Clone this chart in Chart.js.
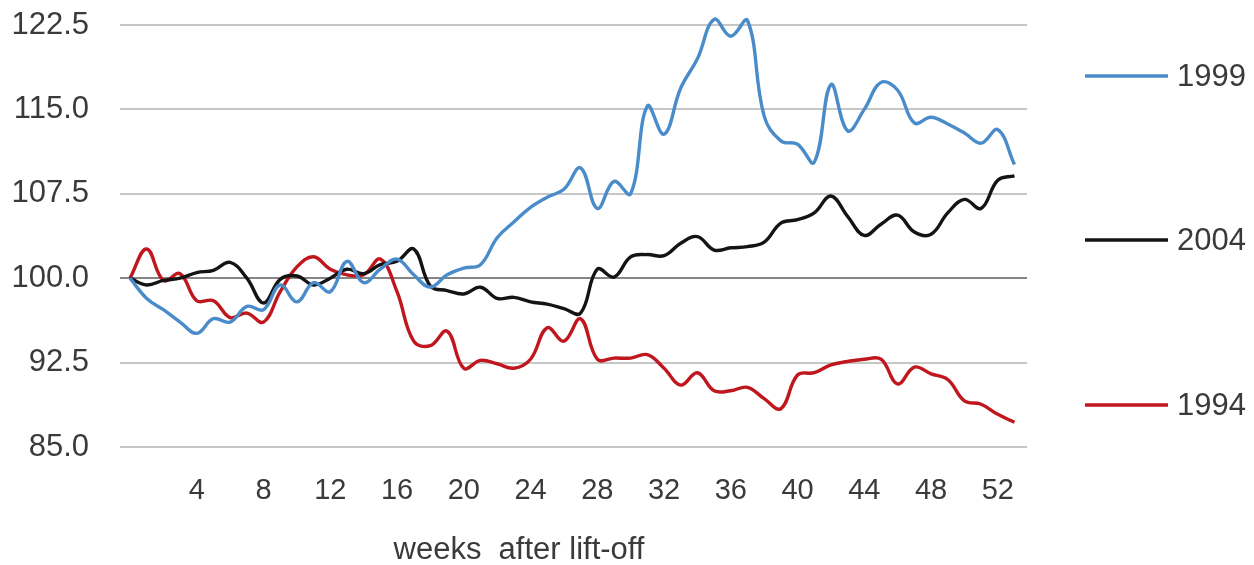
<!DOCTYPE html>
<html>
<head>
<meta charset="utf-8">
<script src="https://cdn.jsdelivr.net/npm/chart.js@4.4.1/dist/chart.umd.min.js"></script>
<style>
  body { margin: 0; background: #fff; }
  canvas { display: block; }
</style>
</head>
<body>
<canvas id="chart" width="1254" height="565"></canvas>
<script>
// weeks after lift-off
var weeks = [0,1,2,3,4,5,6,7,8,9,10,11,12,13,14,15,16,17,18,19,20,21,22,23,24,25,26,
  27,28,29,30,31,32,33,34,35,36,37,38,39,40,41,42,43,44,45,46,47,48,49,50,51,52,53];
var xTicks = [4,8,12,16,20,24,28,32,36,40,44,48,52];
var yTicks = [85,92.5,100,107.5,115,122.5];

var s1999 = [100,98.2,97.2,96.1,95.1,96.4,96.1,97.5,97.2,99.4,97.9,99.6,98.8,101.5,99.6,
  100.8,101.7,100.3,99.2,100.3,100.9,101.2,103.6,105.0,106.3,107.2,107.9,109.8,106.2,
  108.6,107.5,115.3,112.8,116.9,119.5,123.0,121.5,122.9,114.4,112.2,111.9,110.3,117.2,
  113.1,115.0,117.4,116.7,113.8,114.3,113.7,112.9,112.0,113.2,110.1];
var s2004 = [100,99.4,99.8,100.0,100.5,100.7,101.4,100.0,97.8,99.9,100.2,99.4,100.0,100.8,
  100.4,101.2,101.5,102.6,99.3,98.9,98.6,99.2,98.2,98.3,97.9,97.7,97.3,96.9,100.8,100.1,
  101.9,102.1,102.0,103.1,103.7,102.5,102.7,102.8,103.2,104.9,105.2,105.8,107.3,105.5,
  103.8,104.8,105.6,104.1,103.9,105.8,107.0,106.2,108.7,109.1];
var s1994 = [100,102.6,99.8,100.4,98.0,98.0,96.5,96.9,96.1,98.8,101.0,101.9,100.8,100.3,
  100.3,101.7,98.8,94.4,94.0,95.3,92.0,92.7,92.4,92.0,92.8,95.6,94.4,96.4,92.8,92.9,
  92.9,93.2,92.0,90.5,91.6,90.0,90.0,90.3,89.3,88.4,91.4,91.6,92.3,92.6,92.8,92.8,
  90.6,92.1,91.5,91.0,89.1,88.8,87.9,87.2];

var seriesNames = ["1999", "2004", "1994"];
var seriesColors = ["#4a8cc9", "#141414", "#c0161d"];
var legendY = [76, 240, 405];

var textColor = "#3a3a3a";
var fontFamily = "'Liberation Sans', Arial, sans-serif";

function makeSet(i, values) {
  return {
    label: seriesNames[i],
    data: values,
    borderColor: seriesColors[i],
    backgroundColor: seriesColors[i],
    borderWidth: 3.4,
    pointRadius: 0,
    tension: 0.4,
    clip: false
  };
}

var sideLegend = {
  id: "sideLegend",
  afterDraw: function(chart) {
    var ctx = chart.ctx;
    ctx.save();
    ctx.font = "31px " + fontFamily;
    ctx.textBaseline = "middle";
    ctx.textAlign = "left";
    for (var i = 0; i < seriesNames.length; i++) {
      ctx.strokeStyle = seriesColors[i];
      ctx.lineWidth = 3.5;
      ctx.beginPath();
      ctx.moveTo(1085, legendY[i]);
      ctx.lineTo(1168, legendY[i]);
      ctx.stroke();
      ctx.fillStyle = textColor;
      ctx.fillText(seriesNames[i], 1177, legendY[i] + 1);
    }
    // axis title
    ctx.textAlign = "center";
    ctx.fillText("weeks  after lift-off", 519, 550);
    ctx.restore();
  }
};

new Chart("chart", {
  type: "line",
  data: {
    labels: weeks,
    datasets: [makeSet(0, s1999), makeSet(1, s2004), makeSet(2, s1994)]
  },
  options: {
    responsive: false,
    animation: false,
    devicePixelRatio: 1,
    layout: { padding: { left: 0, top: 25, right: 227, bottom: 0 } },
    plugins: {
      legend: { display: false },
      tooltip: { enabled: false }
    },
    scales: {
      x: {
        type: "linear",
        min: -0.6,
        max: 53.75,
        afterFit: function(scale) {
          scale.height = 118;
          scale.paddingLeft = 0;
          scale.paddingRight = 0;
        },
        afterBuildTicks: function(scale) {
          scale.ticks = xTicks.map(function(v) { return { value: v }; });
        },
        grid: { display: false },
        border: { display: false },
        ticks: {
          autoSkip: false,
          maxRotation: 0,
          padding: 19,
          color: textColor,
          font: { size: 29, family: fontFamily }
        }
      },
      y: {
        min: 85,
        max: 122.5,
        afterFit: function(scale) {
          scale.width = 120;
          scale.paddingTop = 0;
          scale.paddingBottom = 0;
        },
        afterBuildTicks: function(scale) {
          scale.ticks = yTicks.map(function(v) { return { value: v }; });
        },
        border: { display: false },
        grid: {
          drawTicks: false,
          lineWidth: 2,
          color: function(c) { return c.tick && c.tick.value === 100 ? "#858585" : "#c6c6c6"; }
        },
        ticks: {
          padding: 31,
          color: textColor,
          font: { size: 31, family: fontFamily },
          callback: function(v) { return Number(v).toFixed(1); }
        }
      }
    }
  },
  plugins: [sideLegend]
});
</script>
</body>
</html>
